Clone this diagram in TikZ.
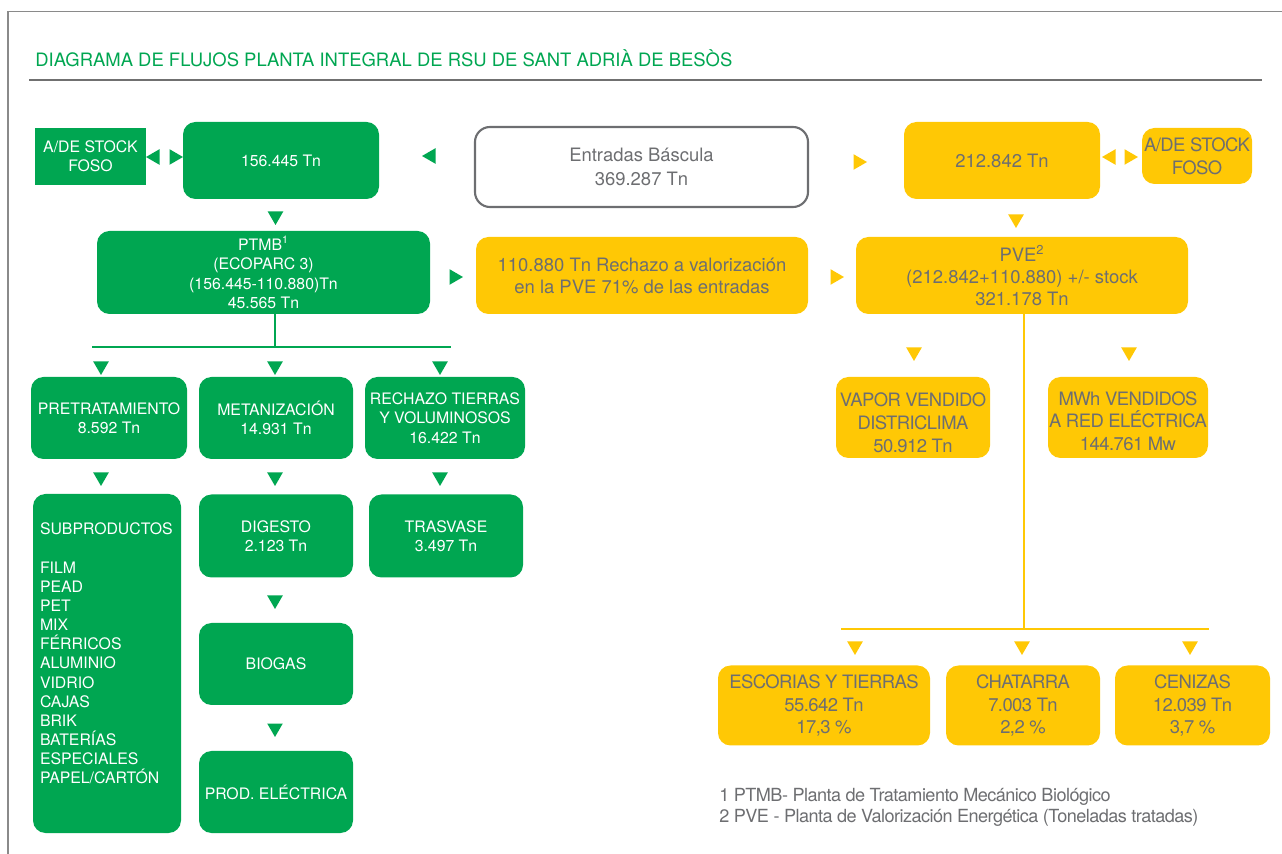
\documentclass[tikz,border=0pt]{standalone}
\usepackage{fontspec}
\setmainfont{TeX Gyre Heros}
\newfontfamily\narrowfont[LetterSpace=-3]{TeX Gyre Heros}
\usetikzlibrary{shapes.geometric,positioning,calc}
\definecolor{verde}{HTML}{00A651}
\definecolor{amarillo}{HTML}{FFC805}
\definecolor{gristexto}{HTML}{6D6E71}
\definecolor{marco}{HTML}{8A8A8A}
\definecolor{linea}{HTML}{707070}

\tikzset{
  px/.style 2 args={minimum width=#1*0.02cm, minimum height=#2*0.02cm},
  gbox/.style={fill=verde, text=white, rounded corners=0.25cm, align=center,
    inner sep=0pt, font=\fontsize{9}{11}\selectfont},
  ybox/.style={fill=amarillo, text=gristexto, rounded corners=0.25cm, align=center,
    inner sep=0pt, font=\fontsize{10.5}{12.5}\selectfont},
  ysmall/.style={ybox, font=\narrowfont\fontsize{10.5}{13}\selectfont},
  tri/.style={regular polygon, regular polygon sides=3, inner sep=0pt,
    minimum size=0.36cm, fill=#1},
  dn/.style={shape border rotate=180},
  lt/.style={shape border rotate=90},
  rt/.style={shape border rotate=-90},
  gline/.style={verde, line width=1.1pt},
  yline/.style={amarillo, line width=1.4pt},
  nota/.style={anchor=base west, inner sep=0pt, text=gristexto,
    font=\narrowfont\fontsize{10.3}{12.5}\selectfont},
}

\begin{document}
\begin{tikzpicture}[x=0.02cm, y=-0.02cm]
\useasboundingbox (0,0) rectangle (1282,854);
% marco y titulo
\draw[marco, line width=1pt] (8,854) -- (8,11.5) -- (1282,11.5);
\node[anchor=base west, inner sep=0pt, text=verde, font=\fontsize{10.5}{12.5}\selectfont]
  (titulo) at (35,67) {DIAGRAMA DE FLUJOS PLANTA INTEGRAL DE RSU DE SANT ADRIÀ DE BESÒS};
\draw[linea, line width=1.5pt] (29,80) -- (1262,80);

% fila superior
\node[gbox, rounded corners=0pt, px={111}{57}] (stockv) at (90.5,156.5) {A/DE STOCK\\FOSO};
\node[gbox, px={196}{77}] (entv) at (281,160.5) {156.445 Tn};
\node[draw=gristexto, line width=1.2pt, rounded corners=0.3cm, align=center, text=gristexto,
  inner sep=0pt, px={333}{80}, font=\fontsize{10.5}{13.5}\selectfont]
  (bascula) at (641.5,167) {Entradas Báscula\\369.287 Tn};
\node[ybox, px={196}{77}] (enta) at (1002,160.5) {212.842 Tn};
\node[ysmall, px={110}{56}] (stocka) at (1197,156) {A/DE STOCK\\FOSO};

\node[tri=verde, lt] (t1) at (155,157) {};
\node[tri=verde, rt] (t2) at (174,157) {};
\node[tri=verde, lt] (t3) at (431,156) {};
\node[tri=amarillo, rt] (t4) at (858,162) {};
\node[tri=amarillo, lt] (t5) at (1111,157) {};
\node[tri=amarillo, rt] (t6) at (1129,157) {};
\node[tri=verde, dn] (t7) at (275.5,216) {};
\node[tri=amarillo, dn] (t8) at (1016,219) {};

% segunda fila
\node[gbox, px={333}{83}] (ptmb) at (263.5,272.5)
  {PTMB\textsuperscript{1}\\(ECOPARC 3)\\(156.445-110.880)Tn\\45.565 Tn};
\node[ybox, px={332}{77}] (rechazo) at (642,275.5)
  {110.880 Tn Rechazo a valorización\\en la PVE 71\% de las entradas};
\node[ybox, px={332}{77}] (pve) at (1022,275.5)
  {PVE\textsuperscript{2}\\(212.842+110.880) +/- stock\\321.178 Tn};
\node[tri=verde, rt] (t9) at (454,277) {};
\node[tri=amarillo, rt] (t10) at (835,277) {};

% rama PTMB
\coordinate (gbranch) at (275,347);
\coordinate (gizq) at (92,347);
\coordinate (gder) at (451,347);
\draw[gline] (ptmb.south -| gbranch) -- (gbranch);
\draw[gline] (gizq) -- (gder);
\node[tri=verde, dn] (t11) at (101,366) {};
\node[tri=verde, dn] (t12) at (275,366) {};
\node[tri=verde, dn] (t13) at (440,366) {};

\node[gbox, px={156}{82}] (pretrat) at (109,418) {PRETRATAMIENTO\\8.592 Tn};
\node[gbox, px={154}{82}] (metan) at (276,418) {METANIZACIÓN\\14.931 Tn};
\node[gbox, px={160}{82}] (rtierras) at (445,418) {RECHAZO TIERRAS\\Y VOLUMINOSOS\\16.422 Tn};

\node[tri=verde, dn] (t14) at (101,477) {};
\node[tri=verde, dn] (t15) at (275,477) {};
\node[tri=verde, dn] (t16) at (440,477) {};

\node[gbox, px={148}{339}] (subprod) at (107,663.5) {};
\node[anchor=north west, inner sep=0pt, text=white, align=left,
  font=\fontsize{9}{10.9}\selectfont] (subtxt) at ($(subprod.north west)+(7,29)$)
  {SUBPRODUCTOS\\[10.9pt]FILM\\PEAD\\PET\\MIX\\FÉRRICOS\\ALUMINIO\\VIDRIO\\CAJAS\\BRIK\\BATERÍAS\\ESPECIALES\\PAPEL/CARTÓN};
\node[gbox, px={154}{83}] (digesto) at (276,536) {DIGESTO\\2.123 Tn};
\node[gbox, px={154}{83}] (trasvase) at (446,536) {TRASVASE\\3.497 Tn};
\node[tri=verde, dn] (t17) at (275,600) {};
\node[gbox, px={154}{82}] (biogas) at (276,664) {BIOGAS};
\node[tri=verde, dn] (t18) at (275,728) {};
\node[gbox, px={154}{82}] (prodelec) at (276,792) {PROD. ELÉCTRICA};

% rama PVE
\coordinate (ybranch) at (1024,629);
\coordinate (yizq) at (841,629);
\coordinate (yder) at (1209,629);
\draw[yline] (pve.south -| ybranch) -- (ybranch);
\draw[yline] (yizq) -- (yder);

\node[tri=amarillo, dn] (t19) at (914,352) {};
\node[tri=amarillo, dn] (t20) at (1129,352) {};
\node[ysmall, px={154}{81}] (vapor) at (913,417.5) {\rule{0pt}{14pt}VAPOR VENDIDO\\DISTRICLIMA\\50.912 Tn};
\node[ysmall, px={160}{81}] (mwh) at (1128,417.5) {\rule{0pt}{12pt}MWh VENDIDOS\\A RED ELÉCTRICA\\144.761 Mw};

\node[tri=amarillo, dn] (t21) at (855,646) {};
\node[tri=amarillo, dn] (t22) at (1022,646) {};
\node[tri=amarillo, dn] (t23) at (1190,646) {};
\node[ysmall, px={212}{80}] (escorias) at (824,705.5) {ESCORIAS Y TIERRAS\\55.642 Tn\\17,3 \%};
\node[ysmall, px={154}{80}] (chatarra) at (1023,705.5) {CHATARRA\\7.003 Tn\\2,2 \%};
\node[ysmall, px={155}{80}] (cenizas) at (1192.5,705.5) {CENIZAS\\12.039 Tn\\3,7 \%};

% notas
\node[nota] (nota1) at (719,801) {1 PTMB- Planta de Tratamiento Mecánico Biológico};
\node[nota] (nota2) at (719,822) {2 PVE - Planta de Valorización Energética (Toneladas tratadas)};
\end{tikzpicture}
\end{document}
